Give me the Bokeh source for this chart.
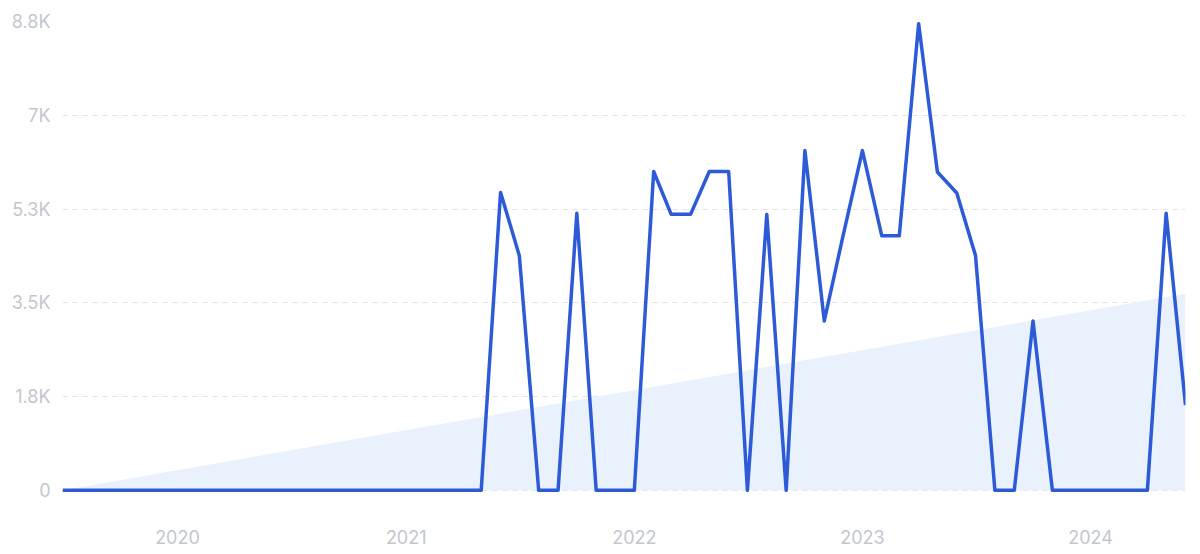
from datetime import datetime
from bokeh.plotting import figure
from bokeh.models import Range1d, FixedTicker, ColumnDataSource
from bokeh.embed import file_html
from bokeh.resources import INLINE

# ---- data ----
start_year, start_month = 2019, 7
values = [0, 0, 0, 0, 0, 0, 0, 0, 0, 0, 0, 0,
          0, 0, 0, 0, 0, 0, 0, 0, 0, 0, 0, 5560,
          4380, 0, 0, 5170, 0, 0, 0, 5950, 5150, 5150, 5950, 5950,
          0, 5150, 0, 6340, 3160, 4750, 6340, 4750, 4750, 8710,
          5940, 5550, 4380, 0, 0, 3160, 0, 0, 0, 0, 0, 0, 5170, 1590]
trend_values = [0, 3670]
y_ticks = [0, 1750, 3500, 5250, 7000, 8750]
y_labels = ["0", "1.8K", "3.5K", "5.3K", "7K", "8.8K"]
x_years = [2020, 2021, 2022, 2023, 2024]

def month_date(i):
    m = start_month - 1 + i
    return datetime(start_year + m // 12, m % 12 + 1, 1)

dates = [month_date(i) for i in range(len(values))]
trend_dates = [dates[0], dates[-1]]

def ms(d):
    return (d - datetime(1970, 1, 1)).total_seconds() * 1000.0

p = figure(
    x_axis_type="datetime",
    frame_width=1123, frame_height=472,
    min_border_left=62, min_border_right=14, min_border_top=21, min_border_bottom=58,
    output_backend="svg", toolbar_location=None,
    x_range=Range1d(dates[0], dates[-1]),
    y_range=Range1d(-60, 8750),
    background_fill_color="white", border_fill_color="white",
)
p.outline_line_color = None

# trend area
p.varea(x=trend_dates, y1=[0, 0], y2=trend_values, fill_color="#e9f1fd", fill_alpha=1.0)

# series line
src = ColumnDataSource(dict(x=dates, y=values))
p.line("x", "y", source=src, line_color="#2d5bd8", line_width=3.5, line_join="round")

# axes
p.xgrid.grid_line_color = None
p.ygrid.grid_line_color = "#dfe2e8"
p.ygrid.grid_line_dash = "5 5"
p.ygrid.grid_line_width = 1

p.yaxis.ticker = FixedTicker(ticks=y_ticks)
p.yaxis.major_label_overrides = {t: l for t, l in zip(y_ticks, y_labels)}
xt = [ms(datetime(y, 1, 1)) for y in x_years]
p.xaxis.ticker = FixedTicker(ticks=xt)
p.xaxis.major_label_overrides = {t: str(y) for t, y in zip(xt, x_years)}

for ax in (p.xaxis[0], p.yaxis[0]):
    ax.axis_line_color = None
    ax.major_tick_line_color = None
    ax.minor_tick_line_color = None
    ax.major_tick_out = 0
    ax.major_tick_in = 0
    ax.minor_tick_out = 0
    ax.major_label_text_font = "Inter"
    ax.major_label_text_font_size = "18px"
    ax.major_label_text_color = "#c3c6ce"
p.yaxis.major_label_standoff = 12
p.xaxis.major_label_standoff = 36

open("out.html", "w").write(file_html(p, INLINE))
